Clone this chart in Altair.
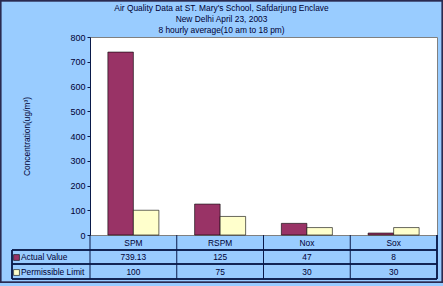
import altair as alt
import pandas as pd

categories = ["SPM", "RSPM", "Nox", "Sox"]
series = ["Actual Value", "Permissible Limit"]
actual = [739.13, 125, 47, 8]
limit = [100, 75, 30, 30]
actual_labels = ["739.13", "125", "47", "8"]
limit_labels = ["100", "75", "30", "30"]
title_lines = ["Air Quality Data at ST. Mary's School, Safdarjung Enclave",
               "New Delhi April 23, 2003",
               "8 hourly average(10 am to 18 pm)"]
y_title = "Concentration(ug/m\u00b3)"

rows = []
for c, a, l, al, ll in zip(categories, actual, limit, actual_labels, limit_labels):
    rows.append({"cat": c, "series": series[0], "value": a, "label": al})
    rows.append({"cat": c, "series": series[1], "value": l, "label": ll})
df = pd.DataFrame(rows)
cat_df = pd.DataFrame({"cat": categories})
ser_df = pd.DataFrame({"series": series})
title_df = pd.DataFrame({"t": ["\n".join(title_lines)]})

FONT = "Liberation Sans"
TXT = "#000033"
LINE = "#0a1a4a"
W, H = 347, 198
FS = 8.4

x_scale = alt.Scale(domain=categories, paddingInner=0, paddingOuter=0)
color_scale = alt.Scale(domain=series, range=["#993366", "#FFFFCC"])

bars = alt.Chart(df).mark_bar(stroke="#000000", strokeWidth=0.6).encode(
    x=alt.X("cat:N", scale=x_scale, sort=categories, axis=None),
    xOffset=alt.XOffset("series:N", scale=alt.Scale(domain=series, paddingOuter=0.7, paddingInner=0)),
    y=alt.Y("value:Q", scale=alt.Scale(domain=[0, 800]),
            axis=alt.Axis(values=list(range(0, 801, 100)), grid=False, title=y_title,
                          labelFont=FONT, labelFontSize=9, labelColor=TXT,
                          titleFont=FONT, titleFontSize=FS, titleFontWeight="normal", titleColor=TXT,
                          titlePadding=38, tickSize=3, tickColor=LINE, domainColor=LINE,
                          labelPadding=2)),
    color=alt.Color("series:N", scale=color_scale, legend=None),
)

title_text = alt.Chart(title_df).mark_text(
    font=FONT, fontSize=FS, color=TXT, baseline="top", align="center", lineBreak="\n", lineHeight=11
).encode(x=alt.value(131.5), y=alt.value(-33), text="t:N")

cat_text = alt.Chart(cat_df).mark_text(font=FONT, fontSize=FS, color=TXT, baseline="middle").encode(
    x=alt.X("cat:N", scale=x_scale, sort=categories, axis=None),
    y=alt.value(206), text="cat:N")

row_y = {series[0]: 220, series[1]: 235}
val_layers = []
for s in series:
    val_layers.append(
        alt.Chart(df).transform_filter(alt.datum.series == s).mark_text(
            font=FONT, fontSize=FS, color=TXT, baseline="middle").encode(
            x=alt.X("cat:N", scale=x_scale, sort=categories, axis=None),
            y=alt.value(row_y[s]), text="label:N"))
    val_layers.append(
        alt.Chart(ser_df).transform_filter(alt.datum.series == s).mark_text(
            font=FONT, fontSize=FS, color=TXT, baseline="middle", align="left").encode(
            x=alt.value(-69), y=alt.value(row_y[s]), text="series:N"))
    val_layers.append(
        alt.Chart(ser_df).transform_filter(alt.datum.series == s).mark_square(
            size=34, opacity=1, stroke="#000000", strokeWidth=0.6).encode(
            x=alt.value(-73.5), y=alt.value(row_y[s] + 0.5),
            color=alt.Color("series:N", scale=color_scale, legend=None)))

vlines = alt.Chart(cat_df).mark_rule(color=LINE, strokeWidth=1).encode(
    x=alt.X("cat:N", scale=x_scale, sort=categories, axis=None, bandPosition=0),
    y=alt.value(198), y2=alt.value(242))
vline_end = alt.Chart(cat_df).mark_rule(color=LINE, strokeWidth=1).encode(
    x=alt.value(W), y=alt.value(198), y2=alt.value(242))
vline_left = alt.Chart(cat_df).mark_rule(color=LINE, strokeWidth=1).encode(
    x=alt.value(-78), y=alt.value(213), y2=alt.value(242))
hlines = [alt.Chart(cat_df).mark_rule(color=LINE, strokeWidth=1).encode(
    x=alt.value(-78), x2=alt.value(W), y=alt.value(yy)) for yy in (213, 227, 242)]

border = alt.Chart(cat_df).mark_rect(filled=False, stroke="#2a2a50", strokeWidth=1.2).encode(
    x=alt.value(-89.4), x2=alt.value(W + 5.4), y=alt.value(-36.4), y2=alt.value(H + 47.4))

chart = alt.layer(bars, title_text, cat_text, *val_layers, vlines, vline_end, vline_left, *hlines, border).properties(
    width=W, height=H,
    autosize=alt.AutoSizeParams(type="none"),
    padding={"left": 90, "top": 37, "right": 6, "bottom": 51},
    background="#99CCFF",
).configure_view(fill="white", stroke="#808080", strokeWidth=1)

chart.save("out.html", embed_options={"renderer": "svg", "actions": False})
